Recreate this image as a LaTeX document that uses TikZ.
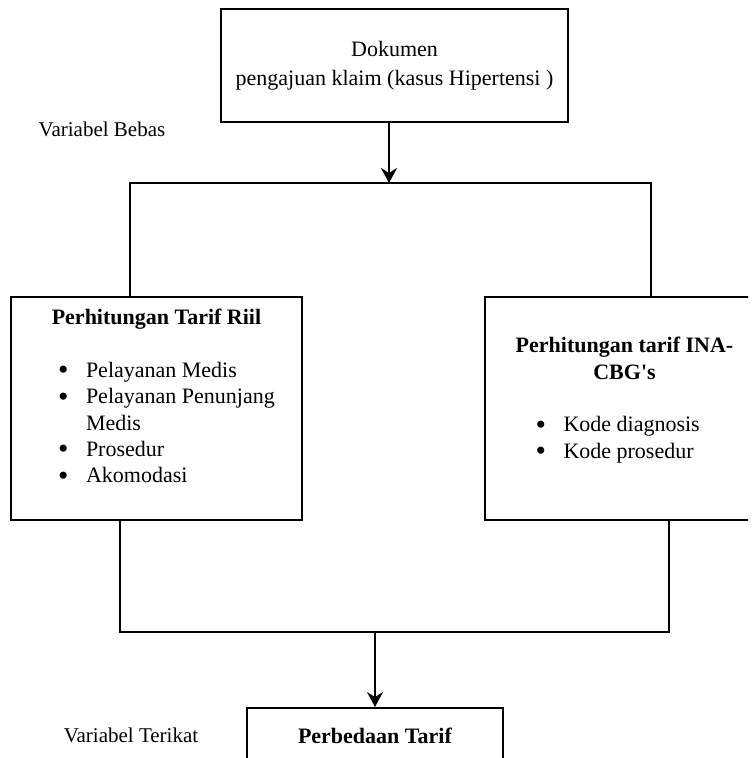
\documentclass[tikz,border=0pt]{standalone}
\usepackage{fontspec}
\setmainfont{Liberation Serif}
\usetikzlibrary{arrows.meta, positioning}
\tikzset{
  kotak/.style={draw, line width=1pt, inner sep=0pt, align=center, font=\fontsize{11}{13.2}\selectfont},
  isi/.style={inner sep=0pt, font=\fontsize{11}{13.2}\selectfont},
  garis/.style={line width=1pt},
  panah/.style={line width=1pt, -{Stealth[length=7.5pt, width=8pt, inset=2.5pt]}},
  ket/.style={anchor=base, font=\fontsize{10.5}{12.6}\selectfont}}
\newcommand{\butir}[2]{\hspace*{#1}\makebox[14pt][l]{\raisebox{-1.2pt}[0pt][0pt]{\scalebox{1.35}{\textbullet}}}#2\par}

\begin{document}
\begin{tikzpicture}[x=0.5pt, y=-0.5pt]
\useasboundingbox (0,0) rectangle (752,758);
\clip (0,0) rectangle (748,758);
	\node[kotak, minimum width=173.5pt, minimum height=56.5pt, font=\fontsize{11}{14.5}\selectfont] (dok) at (394.5,65.5) {Dokumen\\pengajuan klaim (kasus Hipertensi )};
	\node[kotak, minimum width=145.5pt, minimum height=111.5pt] (riil) at (156.5,408.5) {};
	\node[kotak, minimum width=150pt, minimum height=111.5pt] (inacbg) at (635,408.5) {};
	\node[kotak, anchor=north, minimum width=128pt, text height=17.5pt, text depth=40pt] (beda) at (375,707) {\textbf{Perbedaan Tarif}};
\node[isi] (riilIsi) at (156.5,396) {\begin{minipage}{120pt}
  \centering\textbf{Perhitungan Tarif Riil}\par\vspace{13.2pt}
  \raggedright
  \butir{10.75pt}{Pelayanan Medis}
  \butir{10.75pt}{Pelayanan Penunjang}
  \hspace*{24.75pt}Medis\par
  \butir{10.75pt}{Prosedur}
  \butir{10.75pt}{Akomodasi}
\end{minipage}};
\node[isi] (inacbgIsi) at (624.5,400) {\begin{minipage}{120pt}
  \centering\textbf{Perhitungan tarif INA-\\CBG\textquotesingle s}\par\vspace{13.2pt}
  \raggedright
  \butir{15.5pt}{Kode diagnosis}
  \butir{15.5pt}{Kode prosedur}
\end{minipage}};
\coordinate (pisahAtas) at (389,183);
\coordinate (atasKiri) at (130,183);
\coordinate (atasKanan) at (651,183);
\coordinate (bawahKiri) at (120,632);
\coordinate (bawahKanan) at (669,632);
\coordinate (pisahBawah) at (375,632);
\draw[panah] (dok.south -| pisahAtas) -- (pisahAtas);
\draw[garis] (riil.north -| atasKiri) -- (atasKiri) -- (atasKanan) -- (inacbg.north -| atasKanan);
\draw[garis] (riil.south -| bawahKiri) -- (bawahKiri) -- (bawahKanan) -- (inacbg.south -| bawahKanan);
\draw[panah] (pisahBawah) -- (beda.north -| pisahBawah);
\node[ket] (bebas) at (102,137) {Variabel Bebas};
\node[ket] (terikat) at (131,742) {Variabel Terikat};
\end{tikzpicture}
\end{document}
